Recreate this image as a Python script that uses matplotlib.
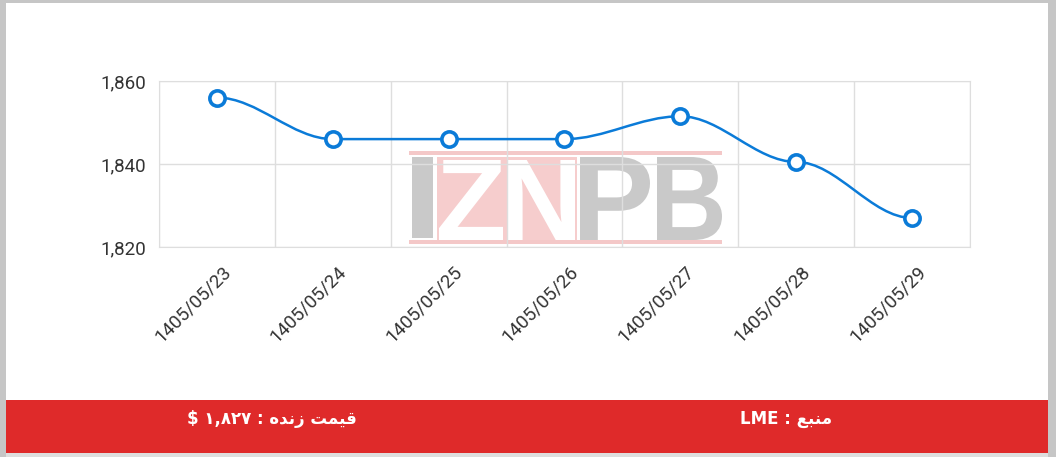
import numpy as np
import matplotlib.pyplot as plt
from matplotlib.patches import Rectangle, PathPatch
from matplotlib.path import Path
from matplotlib.textpath import TextPath
from matplotlib.font_manager import FontProperties
from matplotlib.transforms import Affine2D, ScaledTranslation
from matplotlib.ticker import FuncFormatter

## data
dates = ['1405/05/23', '1405/05/24', '1405/05/25', '1405/05/26',
         '1405/05/27', '1405/05/28', '1405/05/29']
prices = [1856, 1846, 1846, 1846, 1851.5, 1840.5, 1827]
y_ticks = [1820, 1840, 1860]

# footer texts, written in visual order with arabic presentation forms
# (matplotlib does no rtl shaping): "قیمت زنده : ۱,۸۲۷ $" and "منبع : LME"
live_text = '$ \u06F1,\u06F8\u06F2\u06F7 : \uFEE9\uFEAA\uFEE7\uFEAF \uFE96\uFEE4\uFEF4\uFED7'
source_text = 'LME : \uFECA\uFE92\uFEE8\uFEE3'

W, H = 1056, 457
BLUE = '#0b7bd8'
GRID = '#dedede'
RED = '#df2a2a'

plt.rcParams['font.family'] = ['Roboto', 'DejaVu Sans']


def box(fig, x0, y0, x1, y1, color, z):
    fig.patches.append(Rectangle((x0 / W, 1 - y1 / H), (x1 - x0) / W, (y1 - y0) / H,
                                 transform=fig.transFigure, facecolor=color,
                                 edgecolor='none', zorder=z))


def letter(fig, s, x0, y0, x1, y1, color, z):
    # fit a bold glyph into a pixel box
    tp = TextPath((0, 0), s, prop=FontProperties(family='Liberation Sans', weight='bold'))
    bb = tp.get_extents()
    tr = (Affine2D().translate(-bb.x0, -bb.y0)
          .scale((x1 - x0) / bb.width, (y1 - y0) / bb.height)
          .translate(x0, H - y1).scale(1 / W, 1 / H))
    fig.patches.append(PathPatch(tp, transform=tr + fig.transFigure,
                                 facecolor=color, edgecolor='none', zorder=z))


def main():
    fig = plt.figure(figsize=(W / 100, H / 100), dpi=100)
    fig.patch.set_facecolor('#c6c6c6')

    ## card and footer
    box(fig, 6, 3, 1048, 400, 'white', -5)
    box(fig, 6, 400, 1048, 453, RED, -5)
    box(fig, 6, 453, 1048, 457, '#dedede', -5)

    ## watermark
    box(fig, 409, 151, 722, 155, '#f4c8c8', -4)
    box(fig, 409, 240, 722, 244, '#f4c8c8', -4)
    box(fig, 412, 157, 433, 238, '#c9c9c9', -4)
    box(fig, 437, 157, 577, 240, '#f6cdcd', -4)
    letter(fig, 'Z', 439, 160, 503, 240, 'white', -3)
    letter(fig, 'N', 508, 160, 575, 240, 'white', -3)
    letter(fig, 'P', 580, 157, 650, 240, '#c9c9c9', -3)
    letter(fig, 'B', 657, 157, 722, 240, '#c9c9c9', -3)

    ## chart
    ax = fig.add_axes([159 / W, 1 - 247 / H, 811 / W, 166 / H], zorder=1)
    ax.set_facecolor('none')
    x = np.arange(len(dates))

    # smooth line: bezier with flat handles at each point
    verts = [(x[0], prices[0])]
    codes = [Path.MOVETO]
    for i in range(len(x) - 1):
        dx = 0.35 * (x[i + 1] - x[i])
        verts += [(x[i] + dx, prices[i]), (x[i + 1] - dx, prices[i + 1]),
                  (x[i + 1], prices[i + 1])]
        codes += [Path.CURVE4] * 3
    ax.add_patch(PathPatch(Path(verts, codes), fill=False, edgecolor=BLUE,
                           lw=1.8, zorder=3))
    ax.plot(x, prices, 'o', ms=11, mfc='white', mec=BLUE, mew=2.6,
            zorder=4, clip_on=False)

    ax.set_xlim(-0.5, len(dates) - 0.5)
    ax.set_ylim(y_ticks[0], y_ticks[-1])
    ax.set_yticks(y_ticks)
    ax.yaxis.set_major_formatter(FuncFormatter(lambda v, p: f'{v:,.0f}'))
    ax.set_xticks(x)
    ax.set_xticks(np.arange(-0.5, len(dates), 1), minor=True)
    ax.set_xticklabels(dates, rotation=45, ha='right', va='center',
                       rotation_mode='anchor')
    ax.grid(which='minor', axis='x', color=GRID, lw=1)
    ax.grid(which='major', axis='y', color=GRID, lw=1)
    for sp in ax.spines.values():
        sp.set_color(GRID)
    ax.tick_params(which='both', length=0)
    ax.tick_params(axis='y', pad=9, labelsize=13.5, labelcolor='#333333')
    ax.tick_params(axis='x', pad=16, labelsize=13.5, labelcolor='#333333')
    off = ScaledTranslation(11 / 100, 0, fig.dpi_scale_trans)
    for lab in ax.get_xticklabels():
        lab.set_transform(lab.get_transform() + off)

    ## footer text
    fig.text(272 / W, 1 - 419 / H, live_text, color='white', fontsize=12,
             weight='bold', family=['DejaVu Sans'], ha='center', va='center')
    fig.text(786 / W, 1 - 419 / H, source_text, color='white', fontsize=12,
             weight='bold', family=['DejaVu Sans'], ha='center', va='center')

    fig.savefig('out.png', dpi=100, facecolor=fig.get_facecolor())
    plt.close()


if __name__ == "__main__":
    main()
